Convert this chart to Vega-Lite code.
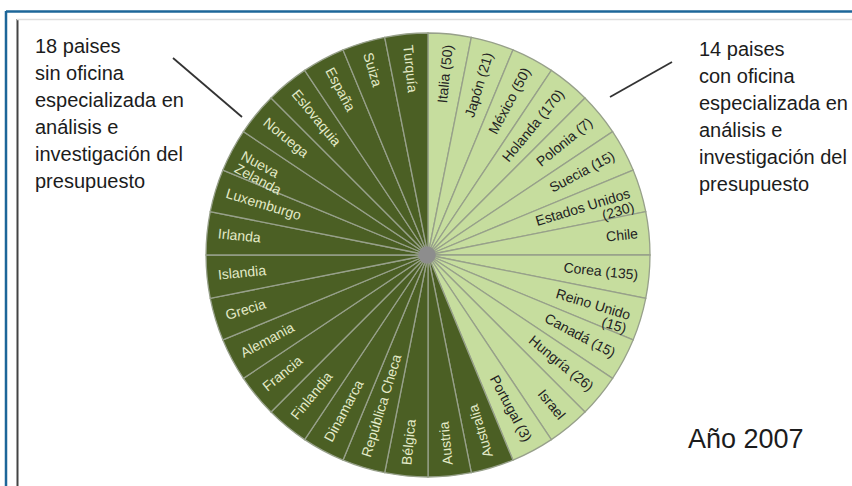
{
  "$schema": "https://vega.github.io/schema/vega-lite/v6.json",
  "width": 852,
  "height": 486,
  "padding": 0,
  "autosize": {"type": "none"},
  "background": "white",
  "config": {"view": {"stroke": null}, "font": "Liberation Sans"},
  "datasets": {
    "paises": [
      {"i": 0, "nombre": "Italia (50)", "grupo": "con", "valor": 1},
      {"i": 1, "nombre": "Japón (21)", "grupo": "con", "valor": 1},
      {"i": 2, "nombre": "México (50)", "grupo": "con", "valor": 1},
      {"i": 3, "nombre": "Holanda (170)", "grupo": "con", "valor": 1},
      {"i": 4, "nombre": "Polonia (7)", "grupo": "con", "valor": 1},
      {"i": 5, "nombre": "Suecia (15)", "grupo": "con", "valor": 1},
      {"i": 6, "nombre": "Estados Unidos\n(230)", "grupo": "con", "valor": 1},
      {"i": 7, "nombre": "Chile", "grupo": "con", "valor": 1},
      {"i": 8, "nombre": "Corea (135)", "grupo": "con", "valor": 1},
      {"i": 9, "nombre": "Reino Unido\n(15)", "grupo": "con", "valor": 1},
      {"i": 10, "nombre": "Canadá (15)", "grupo": "con", "valor": 1},
      {"i": 11, "nombre": "Hungría (26)", "grupo": "con", "valor": 1},
      {"i": 12, "nombre": "Israel", "grupo": "con", "valor": 1},
      {"i": 13, "nombre": "Portugal (3)", "grupo": "con", "valor": 1},
      {"i": 14, "nombre": "Australia", "grupo": "sin", "valor": 1},
      {"i": 15, "nombre": "Austria", "grupo": "sin", "valor": 1},
      {"i": 16, "nombre": "Bélgica", "grupo": "sin", "valor": 1},
      {"i": 17, "nombre": "República Checa", "grupo": "sin", "valor": 1},
      {"i": 18, "nombre": "Dinamarca", "grupo": "sin", "valor": 1},
      {"i": 19, "nombre": "Finlandia", "grupo": "sin", "valor": 1},
      {"i": 20, "nombre": "Francia", "grupo": "sin", "valor": 1},
      {"i": 21, "nombre": "Alemania", "grupo": "sin", "valor": 1},
      {"i": 22, "nombre": "Grecia", "grupo": "sin", "valor": 1},
      {"i": 23, "nombre": "Islandia", "grupo": "sin", "valor": 1},
      {"i": 24, "nombre": "Irlanda", "grupo": "sin", "valor": 1},
      {"i": 25, "nombre": "Luxemburgo", "grupo": "sin", "valor": 1},
      {"i": 26, "nombre": "Nueva\nZelanda", "grupo": "sin", "valor": 1},
      {"i": 27, "nombre": "Noruega", "grupo": "sin", "valor": 1},
      {"i": 28, "nombre": "Eslovaquia", "grupo": "sin", "valor": 1},
      {"i": 29, "nombre": "España", "grupo": "sin", "valor": 1},
      {"i": 30, "nombre": "Suiza", "grupo": "sin", "valor": 1},
      {"i": 31, "nombre": "Turquía", "grupo": "sin", "valor": 1}
    ],
    "marco_azul": [
      {"x": 6, "y": 11, "x2": 6, "y2": 486},
      {"x": 6, "y": 11.5, "x2": 852, "y2": 11.5}
    ],
    "marco_negro": [
      {"x": 17.5, "y": 19, "x2": 17.5, "y2": 486}
    ],
    "marco_gris": [
      {"x": 17, "y": 19.5, "x2": 852, "y2": 19.5}
    ],
    "lineas": [
      {"x": 173, "y": 58, "x2": 242, "y2": 117},
      {"x": 672, "y": 62, "x2": 610, "y2": 97}
    ],
    "notas": [
      {"x": 35, "y": 53, "texto": "18 paises\nsin oficina\nespecializada en\nanálisis  e\ninvestigación del\npresupuesto"},
      {"x": 699, "y": 56, "texto": "14 paises\ncon oficina\nespecializada en\nanálisis e\ninvestigación del\npresupuesto"}
    ],
    "anio": [
      {"x": 688, "y": 448, "texto": "Año 2007"}
    ],
    "centro": [
      {"x": 427, "y": 255}
    ]
  },
  "layer": [
    {
      "data": {"name": "marco_azul"},
      "mark": {"type": "rule", "color": "#1d6699", "strokeWidth": 2.5},
      "encoding": {
        "x": {"field": "x", "type": "quantitative", "scale": {"domain": [0, 852], "nice": false, "zero": false}, "axis": null},
        "y": {"field": "y", "type": "quantitative", "scale": {"domain": [0, 486], "nice": false, "zero": false, "reverse": true}, "axis": null},
        "x2": {"field": "x2"},
        "y2": {"field": "y2"}
      }
    },
    {
      "data": {"name": "marco_negro"},
      "mark": {"type": "rule", "color": "#444444", "strokeWidth": 2},
      "encoding": {
        "x": {"field": "x", "type": "quantitative"},
        "y": {"field": "y", "type": "quantitative"},
        "x2": {"field": "x2"},
        "y2": {"field": "y2"}
      }
    },
    {
      "data": {"name": "marco_gris"},
      "mark": {"type": "rule", "color": "#dddddd", "strokeWidth": 1.5},
      "encoding": {
        "x": {"field": "x", "type": "quantitative"},
        "y": {"field": "y", "type": "quantitative"},
        "x2": {"field": "x2"},
        "y2": {"field": "y2"}
      }
    },
    {
      "data": {"name": "lineas"},
      "mark": {"type": "rule", "color": "#333333", "strokeWidth": 1.8},
      "encoding": {
        "x": {"field": "x", "type": "quantitative"},
        "y": {"field": "y", "type": "quantitative"},
        "x2": {"field": "x2"},
        "y2": {"field": "y2"}
      }
    },
    {
      "data": {"name": "notas"},
      "mark": {"type": "text", "align": "left", "baseline": "alphabetic", "fontSize": 20, "lineHeight": 27, "lineBreak": "\n", "color": "#1c1c1c"},
      "encoding": {
        "x": {"field": "x", "type": "quantitative"},
        "y": {"field": "y", "type": "quantitative"},
        "text": {"field": "texto", "type": "nominal"}
      }
    },
    {
      "data": {"name": "anio"},
      "mark": {"type": "text", "align": "left", "baseline": "alphabetic", "fontSize": 27, "color": "#1c1c1c"},
      "encoding": {
        "x": {"field": "x", "type": "quantitative"},
        "y": {"field": "y", "type": "quantitative"},
        "text": {"field": "texto", "type": "nominal"}
      }
    },
    {
      "data": {"name": "paises"},
      "mark": {"type": "arc", "outerRadius": 222, "stroke": "#97a08a", "strokeWidth": 1.3},
      "encoding": {
        "x": {"datum": 428, "type": "quantitative"},
        "y": {"datum": 255, "type": "quantitative"},
        "theta": {"field": "valor", "type": "quantitative", "stack": true},
        "order": {"field": "i", "type": "quantitative"},
        "color": {"field": "grupo", "type": "nominal", "scale": {"domain": ["con", "sin"], "range": ["#c6dd9e", "#4b5f24"]}, "legend": null}
      }
    },
    {
      "data": {"name": "paises"},
      "mark": {"type": "text", "radius": 211, "fontSize": 14, "lineHeight": 14, "lineBreak": "\n", "baseline": "middle", "align": {"expr": "datum.grupo === 'con' ? 'right' : 'left'"}},
      "encoding": {
        "x": {"datum": 428, "type": "quantitative"},
        "y": {"datum": 255, "type": "quantitative"},
        "theta": {"field": "valor", "type": "quantitative", "stack": true},
        "order": {"field": "i", "type": "quantitative"},
        "text": {"field": "nombre", "type": "nominal"},
        "angle": {"field": "i", "type": "quantitative", "scale": {"domain": [0, 13, 14, 31], "range": [-84.375, 61.875, 253.125, 444.375]}},
        "color": {"condition": {"test": "datum.grupo === 'con'", "value": "#232323"}, "value": "#e3eac8"}
      }
    },
    {
      "data": {"name": "centro"},
      "mark": {"type": "circle", "size": 300, "color": "#8d8d8d", "opacity": 1},
      "encoding": {
        "x": {"field": "x", "type": "quantitative"},
        "y": {"field": "y", "type": "quantitative"}
      }
    }
  ]
}
